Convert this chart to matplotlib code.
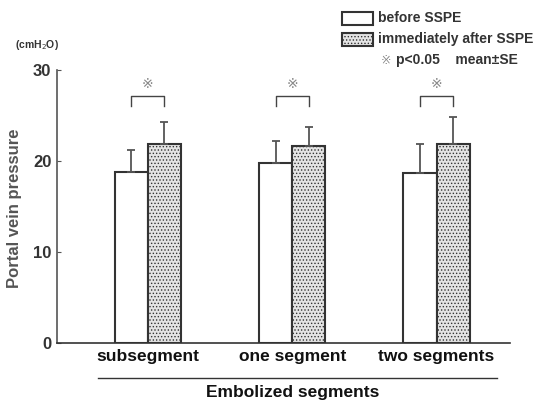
import matplotlib
matplotlib.use('Agg')
import matplotlib.pyplot as plt
from matplotlib.patches import Rectangle
import numpy as np

plt.rcParams['font.family'] = ['Liberation Sans', 'DejaVu Sans']
plt.rcParams['hatch.color'] = '#a0a0a0'
plt.rcParams['hatch.linewidth'] = 0.6

# datos
categorias = ['subsegment', 'one segment', 'two segments']
antes = [18.8, 19.8, 18.7]
antes_se = [2.4, 2.4, 3.2]
despues = [21.9, 21.7, 21.9]
despues_se = [2.4, 2.1, 3.0]

fig = plt.figure(figsize=(5.37, 4.03), dpi=100)
ax = fig.add_axes([0.106, 0.149, 0.844, 0.677])

x = np.arange(len(categorias))
w = 0.23
borde = '#333333'
err_kw = dict(ecolor='#555555', elinewidth=1.3, capsize=3, capthick=1.3)

ax.bar(x - w / 2, antes, w, color='white', edgecolor=borde, linewidth=1.5,
       yerr=[np.zeros(3), antes_se], error_kw=err_kw)
ax.bar(x + w / 2, despues, w, color='#e4e4e4', edgecolor=borde, linewidth=1.5, hatch='.....',
       yerr=[np.zeros(3), despues_se], error_kw=err_kw)

# corchetes de significancia
top = 27.2
for i in range(len(categorias)):
    ax.plot([i - w / 2, i - w / 2, i + w / 2, i + w / 2], [top - 1.1, top, top, top - 1.1],
            color='#444444', lw=1.0)
    ax.text(i, top + 0.5, '\u203b', ha='center', va='bottom', fontsize=10, color='#888888',
            family=['DejaVu Sans'])

ax.set_xlim(-0.63, 2.51)
ax.set_ylim(0, 30)
ax.set_yticks([0, 10, 20, 30])
ax.tick_params(axis='y', direction='in', length=3, labelsize=12, pad=4, color='#555555')
for t in ax.get_yticklabels():
    t.set_fontweight('bold')
    t.set_color('#333333')
ax.set_xticks([])
for s in ['top', 'right']:
    ax.spines[s].set_visible(False)
ax.spines['left'].set_color('#555555')
ax.spines['bottom'].set_color('#333333')
ax.spines['left'].set_linewidth(1.2)
ax.spines['bottom'].set_linewidth(1.2)

for i, c in enumerate(categorias):
    ax.text(i, -1.45, c, ha='center', va='center', fontsize=12.5, fontweight='bold', color='#111111')

# linea y titulo del eje x
fig.add_artist(plt.Line2D([98 / 537, 497 / 537], [1 - 378 / 403, 1 - 378 / 403], color='#333333', lw=1.0))
fig.text(293 / 537, 1 - 392 / 403, 'Embolized segments', ha='center', va='center',
         fontsize=12.5, fontweight='bold', color='#111111')

fig.text(15 / 537, 1 - 208 / 403, 'Portal vein pressure', rotation=90, ha='center', va='center',
         fontsize=12, fontweight='bold', color='#555555')
fig.text(37 / 537, 1 - 45 / 403, '(cmH$_2$O)', ha='center', va='center', fontsize=7.5,
         fontweight='bold', color='#333333')

# leyenda
fig.add_artist(Rectangle((342 / 537, 1 - 25 / 403), 31 / 537, 13 / 403, transform=fig.transFigure,
                         facecolor='white', edgecolor=borde, lw=1.5))
fig.add_artist(Rectangle((342 / 537, 1 - 46 / 403), 31 / 537, 13 / 403, transform=fig.transFigure,
                         facecolor='#e4e4e4', edgecolor=borde, lw=1.5, hatch='.....'))
fig.text(378 / 537, 1 - 18 / 403, 'before SSPE', ha='left', va='center', fontsize=10,
         fontweight='bold', color='#333333')
fig.text(378 / 537, 1 - 39 / 403, 'immediately after SSPE', ha='left', va='center', fontsize=10,
         fontweight='bold', color='#333333')
fig.text(381 / 537, 1 - 60 / 403, '\u203b', ha='left', va='center', fontsize=9, color='#888888',
         family=['DejaVu Sans'])
fig.text(396 / 537, 1 - 60 / 403, 'p<0.05    mean\u00b1SE', ha='left', va='center', fontsize=10,
         fontweight='bold', color='#333333')

fig.savefig('out.png', dpi=100)
